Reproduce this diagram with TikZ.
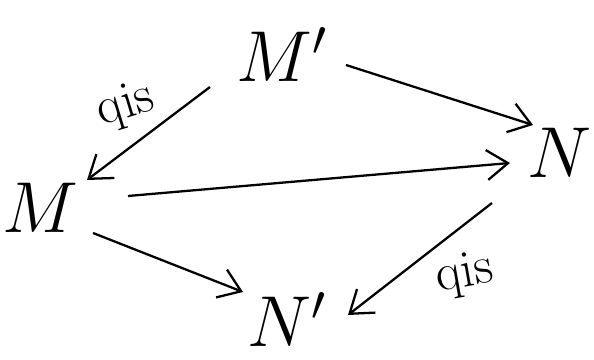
\documentclass[tikz,border=0pt]{standalone}
\usepackage{tikz}
\usetikzlibrary{arrows.meta, calc}

\newcommand{\objtext}[1]{\scalebox{1.65}{$#1$}}

\begin{document}
\begin{tikzpicture}[
  obj/.style={font=\fontsize{24}{26}\selectfont, inner sep=3pt},
  map/.style={-{Straight Barb[length=12pt, width=17pt]}, line width=1.3pt},
  lbl/.style={font=\fontsize{30}{32}\selectfont}
]
\useasboundingbox (0,0) rectangle (11.88,7.2);

%% Objects
\node[obj] (Mp) at (5.64,6.1)  {\objtext{M'}};
\node[obj] (M)  at (0.8,3.04)  {\objtext{M}};
\node[obj] (N)  at (11.2,4.14) {\objtext{N}};
\node[obj] (Np) at (5.75,0.8)  {\objtext{N'}};

%% Maps
\draw[map] ($(Mp)+(-1.44,-0.64)$) -- ($(M)+(0.94,0.56)$)
    node[lbl, midway, xshift=-0.45cm, yshift=0.55cm, rotate=17] {qis};
\draw[map] ($(Mp)+(1.28,-0.2)$) -- ($(N)+(-0.54,0.56)$);
\draw[map] ($(M)+(1.76,0.24)$) -- ($(N)+(-1.0,-0.2)$);
\draw[map] ($(M)+(1.06,-0.5)$) -- ($(Np)+(-0.89,0.56)$);
\draw[map] ($(N)+(-1.36,-1.0)$) -- ($(Np)+(1.21,0.1)$)
    node[lbl, midway, xshift=0.9cm, yshift=-0.32cm, rotate=10] {qis};

\end{tikzpicture}
\end{document}
